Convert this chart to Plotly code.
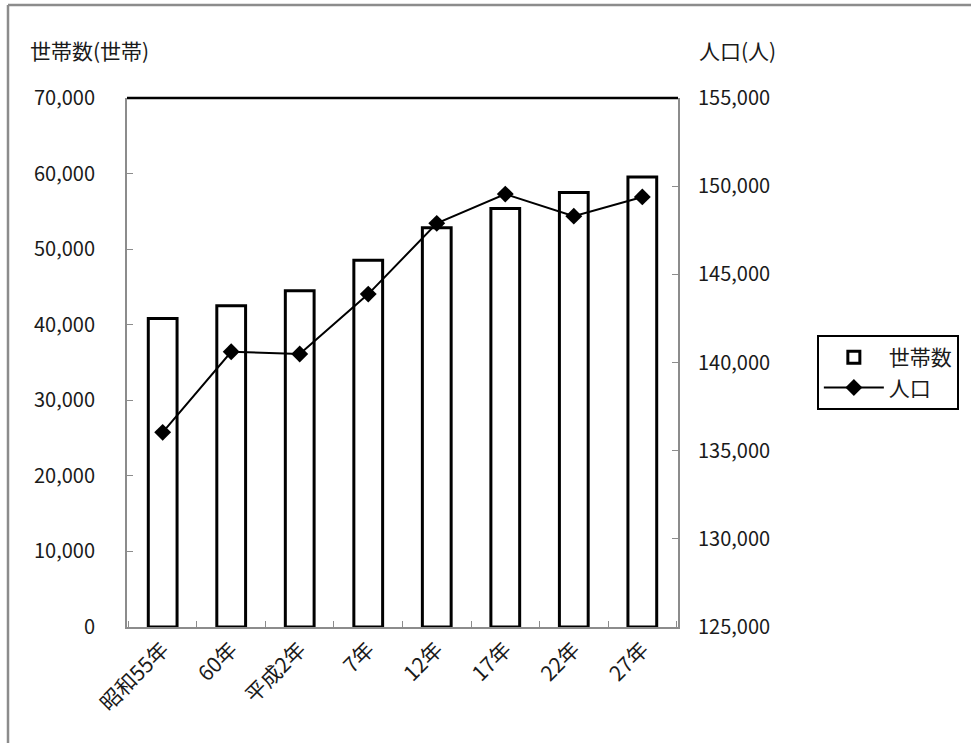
import plotly.graph_objects as go

categories = ["昭和55年", "60年", "平成2年", "7年", "12年", "17年", "22年", "27年"]
households = [40830, 42500, 44480, 48540, 52820, 55380, 57500, 59560]
population = [136040, 140610, 140480, 143880, 147890, 149550, 148300, 149390]

left_ticks = [0, 10000, 20000, 30000, 40000, 50000, 60000, 70000]
right_ticks = [125000, 130000, 135000, 140000, 145000, 150000, 155000]

FONT = "Noto Sans CJK JP"
GRAY = "#8c8c8c"
TXT = "#1a1a1a"

fig = go.Figure()
fig.add_trace(go.Bar(
    x=categories, y=households, name="世帯数",
    marker=dict(color="white", line=dict(color="black", width=3)),
    yaxis="y",
))
fig.add_trace(go.Scatter(
    x=categories, y=population, name="人口", mode="lines+markers",
    line=dict(color="black", width=2),
    marker=dict(symbol="diamond", size=13, color="black"),
    yaxis="y2",
))

fig.update_layout(
    width=971, height=743,
    margin=dict(l=127, r=293, t=98, b=116),
    paper_bgcolor="white", plot_bgcolor="white",
    font=dict(family=FONT, size=20, color=TXT),
    bargap=0.58,
    showlegend=True,
    legend=dict(x=1.252, y=0.552, xanchor="left", yanchor="top",
                bordercolor="black", borderwidth=2, bgcolor="white",
                itemwidth=60,
                font=dict(size=21, family=FONT, color=TXT)),
    xaxis=dict(
        type="category", showline=True, linecolor=GRAY, linewidth=2,
        ticks="inside", tickson="boundaries", ticklen=6, tickcolor=GRAY,
        tickangle=-45, showgrid=False, tickfont=dict(size=21, family=FONT, color=TXT),
    ),
    yaxis=dict(
        range=[0, 70000], tickvals=left_ticks,
        ticktext=[f"{v:,}" for v in left_ticks],
        showline=True, linecolor=GRAY, linewidth=2,
        ticks="inside", ticklen=6, tickcolor=GRAY,
        showgrid=False, zeroline=False, ticklabelstandoff=26,
        tickfont=dict(size=20, family=FONT, color=TXT),
    ),
    yaxis2=dict(
        range=[125000, 155000], tickvals=right_ticks,
        ticktext=[f"{v:,}" for v in right_ticks],
        overlaying="y", side="right",
        showline=True, linecolor=GRAY, linewidth=2,
        ticks="inside", ticklen=6, tickcolor=GRAY,
        showgrid=False, zeroline=False, ticklabelstandoff=14,
        tickfont=dict(size=20, family=FONT, color=TXT),
    ),
    shapes=[
        dict(type="line", xref="paper", yref="paper", x0=0, x1=1, y0=1, y1=1,
             line=dict(color="black", width=2.5)),
        dict(type="line", xref="paper", yref="paper",
             x0=-119/551, x1=(971-127)/551, y0=(627-5)/529, y1=(627-5)/529,
             line=dict(color=GRAY, width=2.5)),
        dict(type="line", xref="paper", yref="paper",
             x0=-119/551, x1=-119/551, y0=(627-5)/529, y1=-116/529,
             line=dict(color=GRAY, width=2.5)),
    ],
    annotations=[
        dict(text="世帯数(世帯)", xref="paper", yref="paper",
             x=-99/551, y=(627-50)/529, xanchor="left", yanchor="middle",
             showarrow=False, font=dict(size=21, family=FONT, color=TXT)),
        dict(text="人口(人)", xref="paper", yref="paper",
             x=(697-127)/551, y=(627-50)/529, xanchor="left", yanchor="middle",
             showarrow=False, font=dict(size=21, family=FONT, color=TXT)),
    ],
)

fig.write_html("out.html", config={"displayModeBar": False},
               post_script="document.body.style.margin='0';document.body.style.overflow='hidden';")
